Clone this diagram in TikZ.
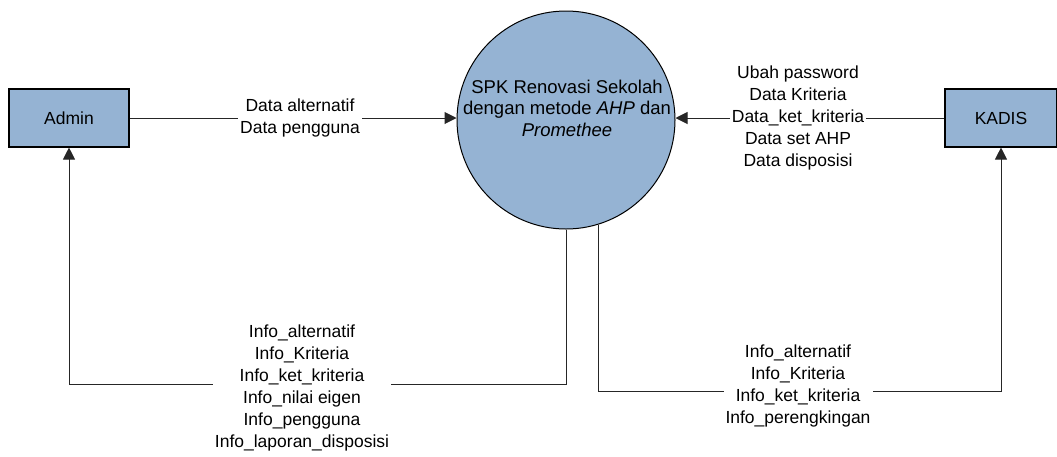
\documentclass[tikz,border=0pt]{standalone}
\usepackage{fontspec}
\setmainfont{Liberation Sans}
\usetikzlibrary{arrows.meta}
\definecolor{procblue}{RGB}{149,179,211}
\tikzset{
  ent/.style={draw=black, line width=1.1pt, fill=procblue, rectangle, inner sep=0pt, font=\fontsize{17.5}{22}\selectfont},
  proc/.style={draw=black, line width=1pt, fill=procblue, circle, inner sep=0pt, minimum size=218pt},
  proctext/.style={inner sep=0pt, align=center, font=\fontsize{18.5}{21.5}\selectfont},
  flow/.style={draw=black!85, line width=1pt, -{Triangle[length=12pt,width=12pt]}},
  lbl/.style={fill=white, inner sep=2pt, align=center, font=\fontsize{17.5}{22}\selectfont}
}
\begin{document}
\begin{tikzpicture}[x=1pt,y=-1pt]
\useasboundingbox (0,0) rectangle (1057,456);
\node[ent, minimum width=120pt, minimum height=58pt] (admin) at (69,118) {Admin};
\node[ent, minimum width=112pt, minimum height=58pt] (kadis) at (1001,118) {KADIS};
\node[proc] (proc) at (566,120) {};
\node[proctext] (proctxt) at (567,108) {SPK Renovasi Sekolah\\dengan metode \textit{AHP} dan\\\textit{Promethee}};
\coordinate (c1) at (0,384);
\coordinate (c2) at (0,391);
\draw[flow] (admin.east) -- (admin.east -| proc.west);
\draw[flow] (kadis.west) -- (proc.east |- kadis.west);
\draw[flow] (proc.south) |- (admin.south |- c1) -- (admin.south);
\draw[flow] (proc.-73.5) |- (kadis.south |- c2) -- (kadis.south);
\node[lbl] (l1) at (300,118) {Data alternatif\\Data pengguna};
\node[lbl] (l2) at (798,118) {Ubah password\\Data Kriteria\\Data\_ket\_kriteria\\Data set AHP\\Data disposisi};
\node[lbl] (l3) at (302,388) {Info\_alternatif\\Info\_Kriteria\\Info\_ket\_kriteria\\Info\_nilai eigen\\Info\_pengguna\\Info\_laporan\_disposisi};
\node[lbl] (l4) at (798,386) {Info\_alternatif\\Info\_Kriteria\\Info\_ket\_kriteria\\Info\_perengkingan};
\end{tikzpicture}
\end{document}
